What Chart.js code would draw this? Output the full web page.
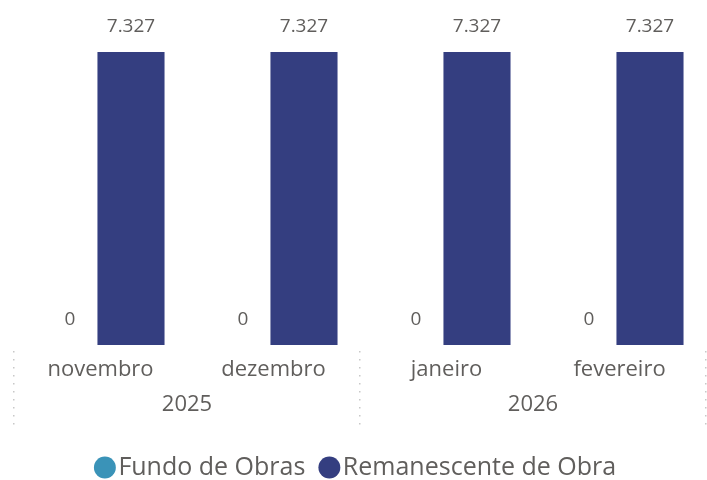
<!DOCTYPE html>
<html><head><meta charset="utf-8">
<script src="https://cdn.jsdelivr.net/npm/chart.js@4"></script>
<style>html,body{margin:0;padding:0;background:#fff}#w{width:707px;height:480px}</style>
</head><body><div id="w"><canvas id="c"></canvas></div>
<script>
const months = ['novembro','dezembro','janeiro','fevereiro'];
const monthYear = ['2025','2025','2026','2026'];
const years = ['2025','2026'];
const fundoDeObras = [0,0,0,0];
const remanescente = [7.327,7.327,7.327,7.327];
const seriesNames = ['Fundo de Obras','Remanescente de Obra'];
const colors = ['#3A93B8','#343E80'];
const FONT = "'Open Sans', sans-serif";
const TXT = '#605E5C';

const fmt = v => v.toFixed(3);

const labelsPlugin = {
  id:'vals',
  afterDatasetsDraw(chart){
    const ctx = chart.ctx;
    ctx.save();
    ctx.font = "19px " + FONT;
    ctx.fillStyle = TXT;
    ctx.textAlign = 'center';
    ctx.textBaseline = 'bottom';
    chart.data.datasets.forEach((ds,i)=>{
      chart.getDatasetMeta(i).data.forEach((bar,j)=>{
        const v = ds.data[j];
        const s = v === 0 ? '0' : fmt(v);
        ctx.fillText(s, bar.x, bar.y - 16);
      });
    });
    ctx.restore();
  }
};

const axisPlugin = {
  id:'years',
  afterDraw(chart){
    const ctx = chart.ctx, xs = chart.scales.x;
    const top = chart.chartArea.bottom + 6, bottom = top + 76;
    const half = (xs.getPixelForValue(1) - xs.getPixelForValue(0))/2;
    ctx.save();
    const seps = [];
    seps.push(xs.getPixelForValue(0) - half);
    for (let i=1;i<months.length;i++) if (monthYear[i]!==monthYear[i-1]) seps.push(xs.getPixelForValue(i) - half);
    seps.push(xs.getPixelForValue(months.length-1) + half);
    ctx.fillStyle = '#C8C8C8';
    seps.forEach(x=>{
      for (let y=top; y<bottom; y+=8) ctx.fillRect(Math.round(x)-1, y, 1.5, 1.5);
    });
    ctx.font = "22px " + FONT;
    ctx.fillStyle = TXT;
    ctx.textAlign = 'center';
    ctx.textBaseline = 'middle';
    years.forEach(y=>{
      const idx = monthYear.map((m,i)=>m===y?i:-1).filter(i=>i>=0);
      const x = (xs.getPixelForValue(idx[0]) + xs.getPixelForValue(idx[idx.length-1]))/2;
      ctx.fillText(y, x, chart.chartArea.bottom + 60);
    });
    ctx.restore();
  }
};

new Chart(document.getElementById('c'), {
  type:'bar',
  data:{
    labels: months,
    datasets:[
      {label:seriesNames[0], data:fundoDeObras, backgroundColor:colors[0]},
      {label:seriesNames[1], data:remanescente, backgroundColor:colors[1]}
    ]
  },
  options:{
    responsive:true, maintainAspectRatio:false, animation:false,
    layout:{padding:{top:52,left:14,right:1,bottom:0}},
    datasets:{bar:{categoryPercentage:0.705, barPercentage:1.1}},
    scales:{
      y:{display:false, min:0, max:7.327},
      x:{
        grid:{display:false}, border:{display:false},
        ticks:{color:TXT, font:{family:FONT, size:22}, padding:4},
        afterFit(s){ s.height = 87; }
      }
    },
    plugins:{
      tooltip:{enabled:false},
      legend:{
        position:'bottom',
        maxHeight:48,
        labels:{
          usePointStyle:true, pointStyle:'circle', boxWidth:2, boxHeight:15.5,
          color:TXT, font:{family:FONT, size:25}, padding:23
        }
      }
    }
  },
  plugins:[labelsPlugin, axisPlugin]
});
</script></body></html>
